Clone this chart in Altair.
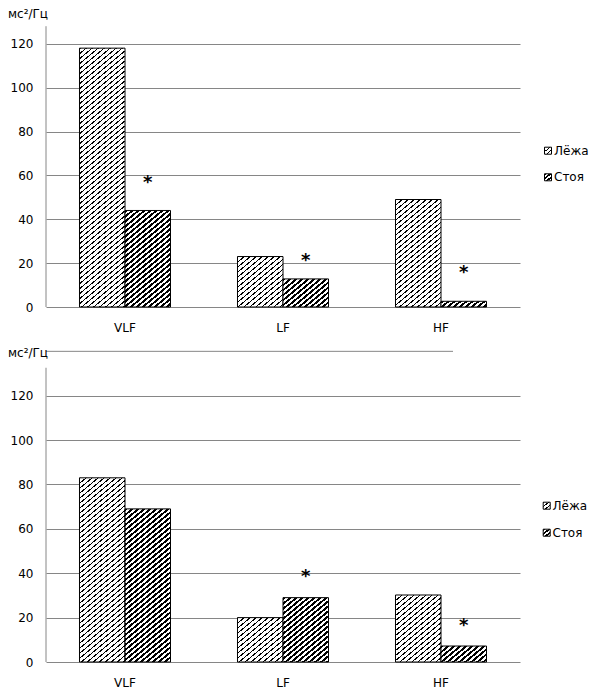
import altair as alt
import pandas as pd

# ---------------- data ----------------
categories = ["VLF", "LF", "HF"]
series = ["Лёжа", "Стоя"]
top_lying = [118.0, 23.0, 49.0]
top_standing = [44.0, 12.8, 2.6]
bottom_lying = [83.0, 20.0, 30.2]
bottom_standing = [69.0, 29.0, 7.2]
top_star_cats = ["VLF", "LF", "HF"]
top_star_vals = [57.0, 21.4, 16.1]
bottom_star_cats = ["LF", "HF"]
bottom_star_vals = [38.6, 16.5]
y_ticks = [0, 20, 40, 60, 80, 100, 120]
unit_label = "мс²/Гц"

# ---------------- styling / layout ----------------
W = 474
PAD_IN, PAD_OUT = 0.424, 0.212
GRID = "#868686"
FONT = "DejaVu Sans"
FS = 12
HATCH = {"Лёжа": (6.0, 1.6), "Стоя": (6.0, 3.0)}
BETA = 1.2


def bar_width():
    step = W / (len(categories) - PAD_IN + 2 * PAD_OUT)
    return step * (1 - PAD_IN) / len(series)


def hatch(w, h, period, lw):
    """Diagonal stripes as a linear gradient with hard stops (bbox units)."""
    S = w + BETA * h
    k = S / (w * w + BETA * BETA * h * h)
    stops = []
    i = 0
    while i * period < S:
        a = i * period / S
        b = min((i * period + lw) / S, 1.0)
        c = min((i + 1) * period / S, 1.0)
        stops += [
            {"offset": round(a, 5), "color": "black"},
            {"offset": round(b, 5), "color": "black"},
            {"offset": round(b, 5), "color": "white"},
            {"offset": round(c, 5), "color": "white"},
        ]
        i += 1
    return {"gradient": "linear", "x1": 0, "y1": 0,
            "x2": k * w, "y2": k * BETA * h, "stops": stops}


def panel(lying, standing, star_cats, star_vals, H, D, axis_top, unit_y,
          legend_ys, sym_x, txt_x, extra_rule=None):
    xs = alt.X("cat:N",
               scale=alt.Scale(domain=categories, paddingInner=PAD_IN,
                               paddingOuter=PAD_OUT),
               axis=alt.Axis(title=None, labelAngle=0, domain=False, ticks=False,
                             labelPadding=15, labelFontSize=FS, labelColor="black",
                             labelFont=FONT, grid=False))
    xo = alt.XOffset("series:N", scale=alt.Scale(domain=series))

    def Y(field):
        return alt.Y(field + ":Q",
                     scale=alt.Scale(domain=[0, D], nice=False, zero=True),
                     axis=alt.Axis(title=None, values=y_ticks, domain=False,
                                   ticks=False, grid=True, gridColor=GRID,
                                   gridWidth=1, labelPadding=13, labelFontSize=FS,
                                   labelColor="black", labelFont=FONT))

    bw = bar_width()
    layers = []
    for s, vals in zip(series, [lying, standing]):
        per, lw = HATCH[s]
        for c, v in zip(categories, vals):
            df = pd.DataFrame({"cat": [c], "series": [s], "value": [v]})
            g = hatch(bw, v * H / D, per, lw)
            layers.append(
                alt.Chart(df).mark_bar(fill=g, stroke="black", strokeWidth=1)
                .encode(x=xs, xOffset=xo, y=Y("value"))
            )

    # vertical axis line
    ax = pd.DataFrame({"lo": [0.0], "hi": [axis_top]})
    layers.append(alt.Chart(ax).mark_rule(color=GRID, strokeWidth=1)
                  .encode(x=alt.value(0), y=Y("lo"), y2="hi:Q"))

    if extra_rule is not None:
        er = pd.DataFrame({"v": [extra_rule[0]]})
        layers.append(alt.Chart(er).mark_rule(color=GRID, strokeWidth=1)
                      .encode(y=Y("v"), x=alt.value(0), x2=alt.value(extra_rule[1])))

    # significance asterisks over the "Стоя" bars
    st = pd.DataFrame({"cat": star_cats, "series": [series[1]] * len(star_cats),
                       "value": star_vals})
    layers.append(alt.Chart(st).mark_text(text="*", font=FONT, fontSize=18,
                                          fontWeight="bold", color="black",
                                          baseline="middle", dy=1)
                  .encode(x=xs, xOffset=xo, y=Y("value")))

    # unit label
    ul = pd.DataFrame({"t": [unit_label]})
    layers.append(alt.Chart(ul).mark_text(align="left", baseline="top", font=FONT,
                                          fontSize=FS, color="black")
                  .encode(x=alt.value(-38), y=alt.value(unit_y), text="t:N"))

    # legend
    for s, ly in zip(series, legend_ys):
        per, lw = HATCH[s]
        ld = pd.DataFrame({"series": [s]})
        layers.append(alt.Chart(ld).mark_square(size=49, fill=hatch(7, 7, per * 0.8, lw * 0.8),
                                                stroke="black", strokeWidth=1, opacity=1)
                      .encode(x=alt.value(sym_x), y=alt.value(ly)))
        layers.append(alt.Chart(ld).mark_text(align="left", baseline="middle", font=FONT,
                                              fontSize=FS, color="black")
                      .encode(x=alt.value(txt_x), y=alt.value(ly), text="series:N"))

    return alt.layer(*layers).properties(width=W, height=H)


top = panel(top_lying, top_standing, top_star_cats, top_star_vals,
            H=299, D=136.3, axis_top=128, unit_y=1,
            legend_ys=[142.7, 169.3], sym_x=502, txt_x=508)

bottom = panel(bottom_lying, bottom_standing, bottom_star_cats, bottom_star_vals,
               H=325, D=325 / 2.219, axis_top=132.6, unit_y=10.5,
               legend_ys=[168.7, 195.7], sym_x=500.7, txt_x=506.5,
               extra_rule=(140, 407))

chart = alt.vconcat(top, bottom, spacing=30, bounds="flush").properties(
    padding=0, background="white"
).configure_view(stroke=None)

chart.save("out.html", embed_options={"renderer": "svg", "actions": False})
